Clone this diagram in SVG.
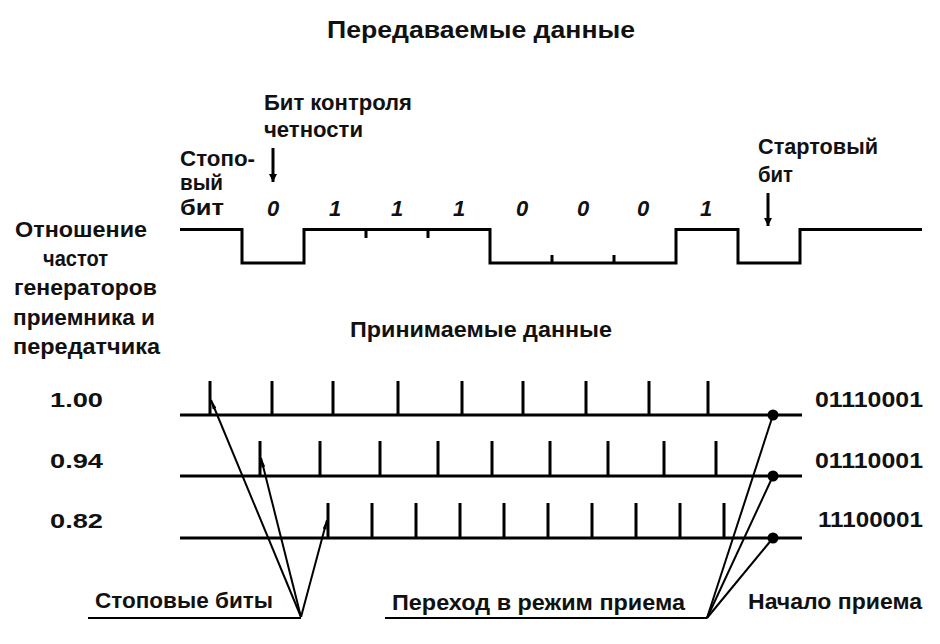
<svg xmlns="http://www.w3.org/2000/svg" width="940" height="644" viewBox="0 0 940 644">
<style>
text{font-family:"Liberation Sans",Arial,sans-serif;fill:#111}
.b{font-weight:bold}
.lb{font-size:22px;font-weight:bold}
.bit{font-size:22px;font-weight:bold;font-style:italic;text-anchor:middle}
.num{font-size:21px;font-weight:bold}
.bin{font-size:22px;font-weight:bold}
.w{fill:none;stroke:#000;stroke-width:3}
.tk{stroke:#000;stroke-width:3}
.cn{fill:none;stroke:#000;stroke-width:2}
</style>
<defs>
<marker id="ah" viewBox="0 0 10 10" refX="10" refY="5" markerWidth="8" markerHeight="9" markerUnits="userSpaceOnUse" orient="auto">
<path d="M0,0 L10,5 L0,10 Z" fill="#000"/>
</marker>
<marker id="tip" viewBox="0 0 14 6" refX="0" refY="3" markerWidth="13" markerHeight="4" markerUnits="userSpaceOnUse" orient="auto">
<path d="M0,3 L14,0 L14,6 Z" fill="#000"/>
</marker>
</defs>

<g id="title-tx">
<text class="b" x="327" y="38" font-size="23" textLength="308" lengthAdjust="spacingAndGlyphs">Передаваемые данные</text>
</g>

<g id="parity-label">
<text class="lb" x="264" y="110" textLength="148" lengthAdjust="spacingAndGlyphs">Бит контроля</text>
<text class="lb" x="264" y="137" textLength="99" lengthAdjust="spacingAndGlyphs">четности</text>
</g>

<g id="stop-label">
<text class="lb" x="180" y="166" textLength="75" lengthAdjust="spacingAndGlyphs">Стопо-</text>
<text class="lb" x="180" y="190" textLength="43" lengthAdjust="spacingAndGlyphs">вый</text>
<text class="lb" x="180" y="215" textLength="44" lengthAdjust="spacingAndGlyphs">бит</text>
</g>

<g id="start-label">
<text class="lb" x="758" y="154" textLength="120" lengthAdjust="spacingAndGlyphs">Стартовый</text>
<text class="lb" x="758" y="182" textLength="35" lengthAdjust="spacingAndGlyphs">бит</text>
</g>

<g id="bits">
<text class="bit" x="273" y="216">0</text>
<text class="bit" x="335" y="216">1</text>
<text class="bit" x="397" y="216">1</text>
<text class="bit" x="459" y="216">1</text>
<text class="bit" x="522" y="216">0</text>
<text class="bit" x="583" y="216">0</text>
<text class="bit" x="643" y="216">0</text>
<text class="bit" x="706" y="216">1</text>
</g>

<g id="ratio-label">
<text class="lb" x="15" y="237" textLength="132" lengthAdjust="spacingAndGlyphs">Отношение</text>
<text class="lb" x="43" y="266" textLength="65" lengthAdjust="spacingAndGlyphs">частот</text>
<text class="lb" x="14" y="295" textLength="143" lengthAdjust="spacingAndGlyphs">генераторов</text>
<text class="lb" x="13" y="325" textLength="142" lengthAdjust="spacingAndGlyphs">приемника и</text>
<text class="lb" x="13" y="354" textLength="147" lengthAdjust="spacingAndGlyphs">передатчика</text>
</g>

<g id="received-title">
<text class="b" x="350" y="337" font-size="22" textLength="262" lengthAdjust="spacingAndGlyphs">Принимаемые данные</text>
</g>

<g id="ratios">
<text class="num" x="50" y="407" textLength="53" lengthAdjust="spacingAndGlyphs">1.00</text>
<text class="num" x="50" y="468" textLength="53" lengthAdjust="spacingAndGlyphs">0.94</text>
<text class="num" x="50" y="528" textLength="53" lengthAdjust="spacingAndGlyphs">0.82</text>
</g>

<g id="results">
<text class="bin" x="815" y="407" textLength="108" lengthAdjust="spacingAndGlyphs">01110001</text>
<text class="bin" x="815" y="468" textLength="108" lengthAdjust="spacingAndGlyphs">01110001</text>
<text class="bin" x="818" y="527" textLength="105" lengthAdjust="spacingAndGlyphs">11100001</text>
</g>

<g id="waveform">
<path class="w" d="M180,229.5 H242 V263 H304 V229.5 H490 V263 H676 V229.5 H738 V263 H800 V229.5 H922"/>
<path class="tk" d="M366,229.5 V238 M428,229.5 V238 M552,263 V255 M614,263 V255"/>
</g>

<g id="row-100">
<line class="tk" x1="180" y1="415" x2="802" y2="415"/>
<path class="tk" d="M210,381V415 M272,381V415 M333,381V415 M398,381V415 M462,381V415 M523,381V415 M586,381V415 M649,381V415 M708,381V415"/>
<circle cx="773" cy="415" r="5.5" fill="#000"/>
</g>
<g id="row-094">
<line class="tk" x1="180" y1="476" x2="802" y2="476"/>
<path class="tk" d="M260,441V476 M320,441V476 M380,441V476 M438,441V476 M492,441V476 M550,441V476 M608,441V476 M664,441V476 M716,441V476"/>
<circle cx="773" cy="476" r="5.5" fill="#000"/>
</g>
<g id="row-082">
<line class="tk" x1="180" y1="538" x2="802" y2="538"/>
<path class="tk" d="M328,503V538 M372,503V538 M416,503V538 M460,503V538 M504,503V538 M548,503V538 M592,503V538 M636,503V538 M680,503V538 M724,503V538"/>
<circle cx="773" cy="538" r="5.5" fill="#000"/>
</g>

<g id="bottom-labels">
<text class="b" x="95" y="608" font-size="22" textLength="178" lengthAdjust="spacingAndGlyphs">Стоповые биты</text>
<text class="b" x="392" y="610" font-size="22" textLength="293" lengthAdjust="spacingAndGlyphs">Переход в режим приема</text>
<text class="b" x="748" y="609" font-size="22" textLength="174" lengthAdjust="spacingAndGlyphs">Начало приема</text>
</g>

<g id="connectors">
<line class="tk" x1="273" y1="148" x2="273" y2="182" marker-end="url(#ah)" stroke-width="2"/>
<line class="tk" x1="768" y1="193" x2="768" y2="226" marker-end="url(#ah)" stroke-width="2"/>
<line class="cn" x1="88" y1="618" x2="301" y2="618"/>
<line class="cn" x1="211" y1="400" x2="301" y2="617" marker-start="url(#tip)"/>
<line class="cn" x1="261" y1="458" x2="301" y2="617" marker-start="url(#tip)"/>
<line class="cn" x1="327" y1="520" x2="301" y2="617" marker-start="url(#tip)"/>
<line class="cn" x1="385" y1="618" x2="707" y2="618"/>
<line class="cn" x1="773" y1="415" x2="707" y2="618"/>
<line class="cn" x1="773" y1="476" x2="707" y2="618"/>
<line class="cn" x1="773" y1="538" x2="707" y2="618"/>
</g>
</svg>
